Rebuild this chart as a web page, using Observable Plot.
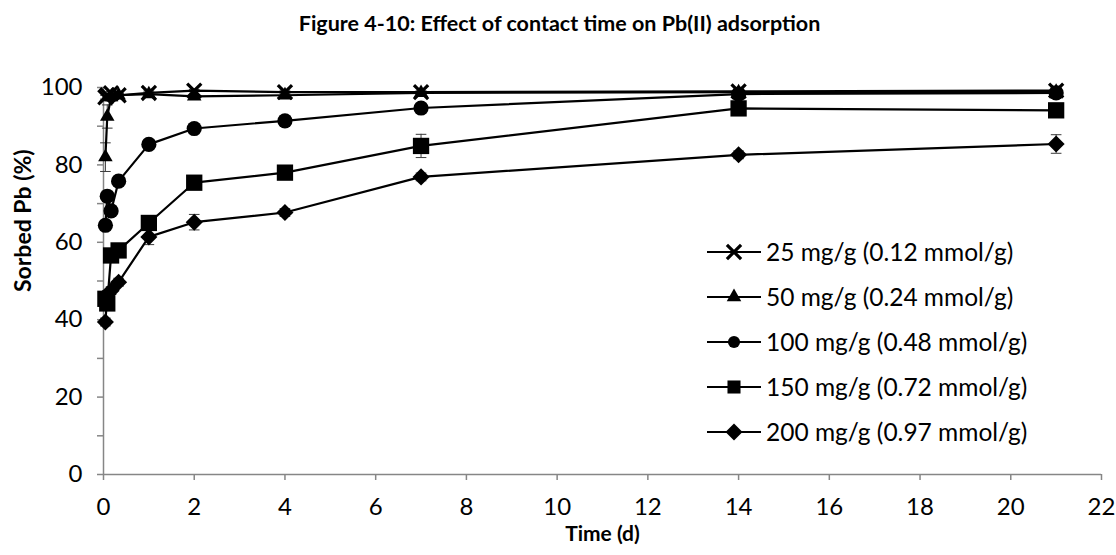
<!DOCTYPE html>
<html>
<head>
<meta charset="utf-8">
<script src="https://cdn.jsdelivr.net/npm/d3@7"></script>
<script src="https://cdn.jsdelivr.net/npm/@observablehq/plot@0.6"></script>
<style>
  body { margin: 0; background: #fff; }
  #wrap { position: relative; width: 1116px; height: 555px; }
</style>
</head>
<body>
<div id="wrap"></div>
<script>
// ---- data ----
const times = [0.042, 0.083, 0.167, 0.333, 1, 2, 4, 7, 14, 21];
const seriesNames = [
  "25 mg/g (0.12 mmol/g)",
  "50 mg/g (0.24 mmol/g)",
  "100 mg/g (0.48 mmol/g)",
  "150 mg/g (0.72 mmol/g)",
  "200 mg/g (0.97 mmol/g)"
];
const s25  = [97.5, 98.0, 98.5, 98.0, 98.6, 99.2, 98.8, 98.8, 99.0, 99.2];
const s50  = [82.0, 92.5, 97.5, 98.0, 98.3, 97.7, 98.0, 98.6, 98.8, 98.9];
const s100 = [64.4, 71.9, 68.1, 75.8, 85.3, 89.4, 91.4, 94.7, 98.3, 98.6];
const s150 = [45.4, 44.2, 56.6, 57.9, 65.0, 75.4, 78.0, 84.9, 94.6, 94.1];
const s200 = [39.4, 46.5, 47.5, 49.7, 61.4, 65.2, 67.7, 76.9, 82.6, 85.4];
const e25  = [0.5, 0.5, 0.5, 0.5, 0.5, 0.3, 0.5, 0.3, 0.3, 0.3];
const e50  = [3.7, 3.0, 1.0, 0.5, 0.5, 0.5, 0.5, 0.5, 0.5, 0.5];
const e100 = [1.0, 1.0, 1.0, 1.0, 1.0, 1.0, 1.2, 1.0, 0.5, 0.5];
const e150 = [1.5, 1.5, 1.0, 1.0, 1.5, 1.0, 1.0, 3.0, 1.0, 1.0];
const e200 = [1.0, 1.0, 1.0, 1.0, 2.0, 2.0, 1.0, 1.0, 1.0, 2.4];
const xTicks = [0, 2, 4, 6, 8, 10, 12, 14, 16, 18, 20, 22];
const yTicks = [0, 20, 40, 60, 80, 100];
const yMinorTicks = [10, 30, 50, 70, 90];

const allValues = [s25, s50, s100, s150, s200];
const allErrors = [e25, e50, e100, e150, e200];
const rows = [];
allValues.forEach((vals, i) => vals.forEach((v, j) =>
  rows.push({series: seriesNames[i], t: times[j], v, e: allErrors[i][j]})));

// ---- styles ----
const FONT = "Lato, 'Open Sans', sans-serif";
const symbolOf = {
  [seriesNames[0]]: {symbol: "times", r: 6.5, fill: "none", stroke: "black", strokeWidth: 3.2, rotate: 0},
  [seriesNames[1]]: {symbol: "triangle", r: 5.4, fill: "black", stroke: "none", strokeWidth: 0, rotate: 0},
  [seriesNames[2]]: {symbol: "circle", r: 7.6, fill: "black", stroke: "none", strokeWidth: 0, rotate: 0},
  [seriesNames[3]]: {symbol: "square", r: 9.2, fill: "black", stroke: "none", strokeWidth: 0, rotate: 0},
  [seriesNames[4]]: {symbol: "square", r: 6.8, fill: "black", stroke: "none", strokeWidth: 0, rotate: 45}
};
const cap = {draw(ctx, size) { const w = Math.sqrt(size) / 2; ctx.moveTo(-w, 0); ctx.lineTo(w, 0); }};
const errRows = rows.filter(d => d.e > 0);

const dotMarks = seriesNames.map(name => {
  const s = symbolOf[name];
  return Plot.dot(rows.filter(d => d.series === name), {
    x: "t", y: "v", symbol: () => s.symbol, r: s.r, fill: s.fill, stroke: s.stroke,
    strokeWidth: s.strokeWidth, rotate: s.rotate
  });
});

const chart = Plot.plot({
  width: 1116, height: 555,
  marginLeft: 103, marginRight: 15, marginTop: 87, marginBottom: 81,
  x: {domain: [0, 22]},
  y: {domain: [0, 100]},
  symbol: {type: "identity"},
  style: {fontFamily: FONT, fontSize: "24px", color: "black", background: "white"},
  marks: [
    Plot.axisX({ticks: xTicks, tickSize: 6, stroke: "#868686", strokeWidth: 1.5, fill: "black", tickPadding: 17, label: null, fontSize: 24}),
    Plot.axisY({ticks: yTicks, tickSize: 6, stroke: "#868686", strokeWidth: 1.5, fill: "black", tickPadding: 15, label: null, fontSize: 24}),
    Plot.tickY(yMinorTicks, {y: d => d, stroke: "#868686", strokeWidth: 1.5, render(index, scales, values, dims, ctx, next) {
      const g = next(index, scales, values, dims, ctx);
      d3.select(g).selectAll("line").attr("x1", dims.marginLeft - 6).attr("x2", dims.marginLeft);
      return g;
    }}),
    Plot.ruleX([0], {stroke: "#868686", strokeWidth: 1.5}),
    Plot.ruleY([0], {stroke: "#868686", strokeWidth: 1.5}),
    // error bars
    Plot.ruleX(errRows, {x: "t", y1: d => d.v - d.e, y2: d => d.v + d.e, stroke: "#3a3a3a", strokeWidth: 1}),
    Plot.dot(errRows, {x: "t", y: d => d.v - d.e, symbol: () => cap, r: 6, stroke: "#3a3a3a", strokeWidth: 1, fill: "none"}),
    Plot.dot(errRows, {x: "t", y: d => d.v + d.e, symbol: () => cap, r: 6, stroke: "#3a3a3a", strokeWidth: 1, fill: "none"}),
    // lines
    Plot.line(rows, {x: "t", y: "v", z: "series", stroke: "black", strokeWidth: 2.2}),
    ...dotMarks,
    // titles
    Plot.text(["Figure 4-10: Effect of contact time on Pb(II) adsorption"], {frameAnchor: "top-left", dx: 456, dy: -72, textAnchor: "middle", fontWeight: "bold", fontSize: 21.5}),
    Plot.text(["Time (d)"], {frameAnchor: "bottom", dy: 66, fontWeight: "bold", fontSize: 21}),
    Plot.text(["Sorbed Pb (%)"], {frameAnchor: "left", dx: -80, dy: 11, rotate: -90, fontWeight: "bold", fontSize: 23})
  ]
});

// ---- legend ----
const svg = d3.select(chart);
const lg = svg.append("g").attr("font-family", FONT).attr("font-size", 24.5).attr("text-anchor", "start");
seriesNames.forEach((name, i) => {
  const y = 252 + i * 45;
  const g = lg.append("g").attr("transform", `translate(0,${y})`);
  g.append("line").attr("x1", 707).attr("x2", 761).attr("y1", 0).attr("y2", 0).attr("stroke", "black").attr("stroke-width", 2.2);
  const s = symbolOf[name];
  const typeMap = {times: d3.symbolTimes, triangle: d3.symbolTriangle, circle: d3.symbolCircle, square: d3.symbolSquare};
  const lr = name === seriesNames[2] || name === seriesNames[3] ? s.r * 0.8 : s.r;
  g.append("path")
    .attr("d", d3.symbol(typeMap[s.symbol], Math.PI * lr * lr)())
    .attr("transform", `translate(734,0) rotate(${s.rotate})`)
    .attr("fill", s.fill).attr("stroke", s.stroke).attr("stroke-width", s.strokeWidth);
  g.append("text").attr("x", 766).attr("y", 0).attr("dy", "0.35em").attr("text-anchor", "start").text(name);
});

document.getElementById("wrap").appendChild(chart);
</script>
</body>
</html>
